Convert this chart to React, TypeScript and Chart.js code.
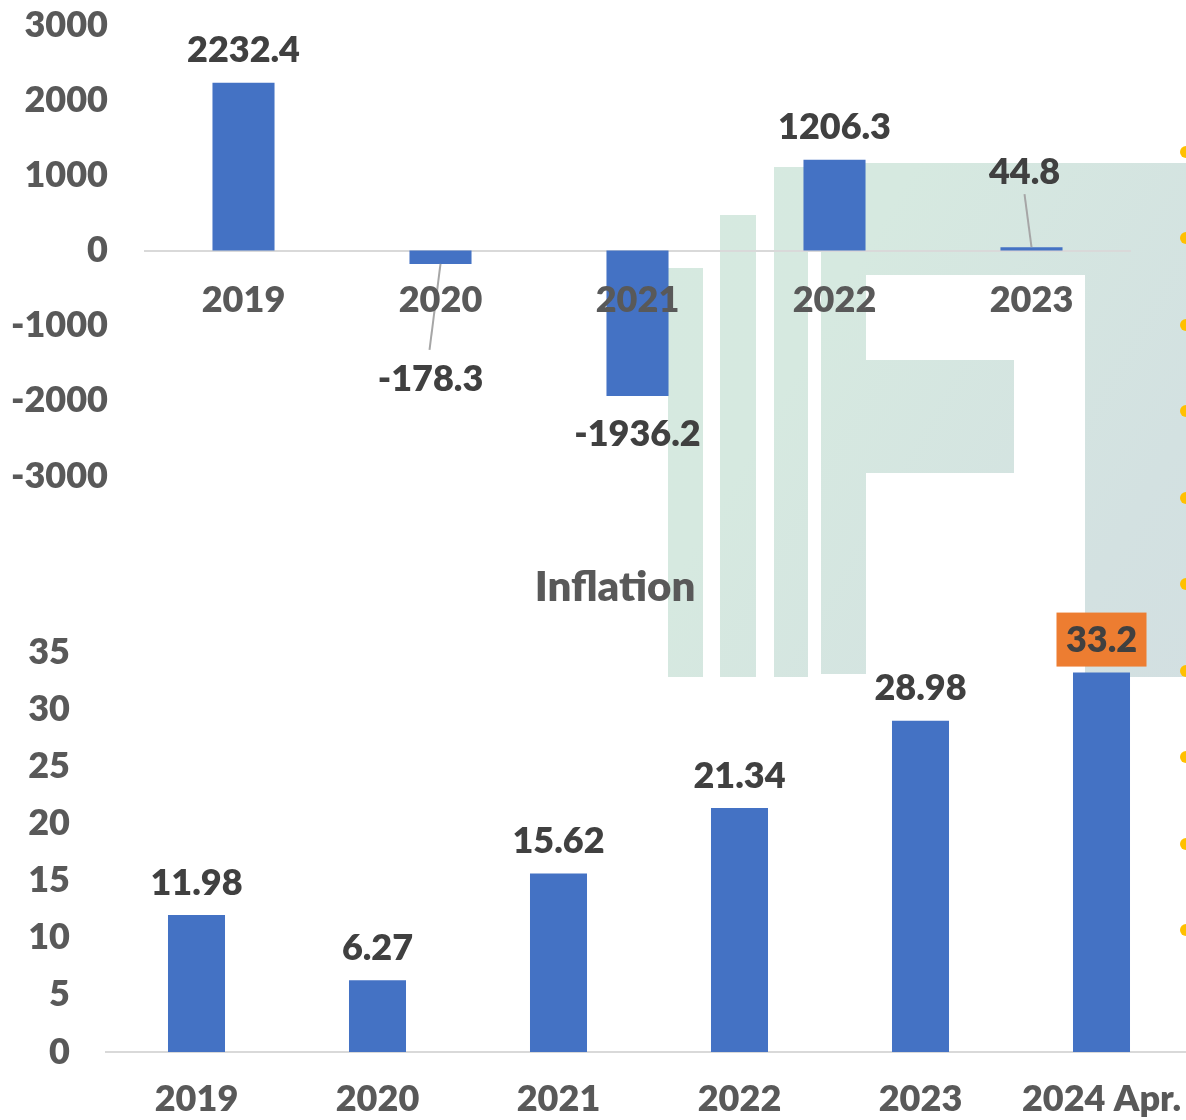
import React, { useEffect, useRef } from 'react';
import { Chart, registerables } from 'chart.js';

Chart.register(...registerables);

// ---- Data ----
const fdiCategories = ['2019', '2020', '2021', '2022', '2023'];
const fdiValues = [2232.4, -178.3, -1936.2, 1206.3, 44.8];
const fdiTicks = [-3000, -2000, -1000, 0, 1000, 2000, 3000];

const inflationTitle = 'Inflation';
const inflationCategories = ['2019', '2020', '2021', '2022', '2023', '2024 Apr.'];
const inflationValues = [11.98, 6.27, 15.62, 21.34, 28.98, 33.2];
const inflationTicks = [0, 5, 10, 15, 20, 25, 30, 35];

// ---- Styles ----
const BAR = '#4472C4';
const TICK_COLOR = '#595959';
const LABEL_COLOR = '#404040';
const FONT = 'Lato';
const WEIGHT = '800';

type LabelLayout = {
  dx?: number;
  offset?: number;
  leader?: { dx: number; dy: number };
  box?: { color: string; w: number; h: number };
};

const barLabelPlugin = {
  id: 'barLabels',
  afterDatasetsDraw(chart: any, _args: any, opts: any) {
    const ctx = chart.ctx as CanvasRenderingContext2D;
    const meta = chart.getDatasetMeta(0);
    const values = chart.data.datasets[0].data as number[];
    const layout: LabelLayout[] = opts.layout || [];
    ctx.save();
    ctx.font = `${WEIGHT} ${opts.size}px ${FONT}`;
    ctx.textAlign = 'center';
    ctx.textBaseline = 'middle';
    meta.data.forEach((bar: any, i: number) => {
      const v = values[i];
      const lay = layout[i] || {};
      const p = bar.getProps(['x', 'y', 'base'], true);
      const neg = v < 0;
      const off = lay.offset ?? (neg ? opts.negOffset : opts.posOffset);
      const lx = p.x + (lay.dx || 0);
      const ly = neg ? p.y + off : p.y - off;
      if (lay.leader) {
        ctx.strokeStyle = '#A6A6A6';
        ctx.lineWidth = 2;
        ctx.beginPath();
        ctx.moveTo(p.x, p.y);
        ctx.lineTo(lx + lay.leader.dx, ly + lay.leader.dy);
        ctx.stroke();
      }
      if (lay.box) {
        ctx.fillStyle = lay.box.color;
        ctx.fillRect(lx - lay.box.w / 2, ly - lay.box.h / 2, lay.box.w, lay.box.h);
      }
      ctx.fillStyle = LABEL_COLOR;
      ctx.fillText(String(v), lx, ly + (opts.textShift || 0));
    });
    ctx.restore();
  },
};

function FdiChart() {
  const ref = useRef<HTMLCanvasElement>(null);
  useEffect(() => {
    if (!ref.current) return;
    const chart = new Chart(ref.current, {
      type: 'bar',
      data: {
        labels: fdiCategories,
        datasets: [
          {
            data: fdiValues,
            backgroundColor: BAR,
            categoryPercentage: 1,
            barPercentage: 0.315,
          },
        ],
      },
      plugins: [barLabelPlugin],
      options: {
        animation: false,
        responsive: false,
        layout: { padding: { left: 0, top: 25, right: 56, bottom: 64 } },
        plugins: {
          legend: { display: false },
          tooltip: { enabled: false },
          barLabels: {
            size: 36,
            posOffset: 33,
            negOffset: 37,
            textShift: 1,
            layout: [
              {},
              { dx: -10, offset: 114, leader: { dx: -1, dy: -28 } },
              {},
              {},
              { dx: -7, offset: 76, leader: { dx: 0, dy: 23 } },
            ],
          },
        } as any,
        scales: {
          x: {
            position: { y: 0 } as any,
            grid: { display: false, drawTicks: true, tickLength: 28 },
            border: { display: true, color: '#D9D9D9', width: 2 },
            ticks: {
              z: 1,
              color: TICK_COLOR,
              font: { family: FONT, size: 36, weight: WEIGHT },
              padding: 0,
              maxRotation: 0,
            },
          },
          y: {
            min: -3000,
            max: 3000,
            afterBuildTicks: (s: any) => {
              s.ticks = fdiTicks.map((v) => ({ value: v }));
            },
            afterFit: (s: any) => {
              s.width = 145;
            },
            grid: { display: false, drawTicks: true, tickLength: 37 },
            border: { display: false },
            ticks: {
              color: TICK_COLOR,
              font: { family: FONT, size: 36, weight: WEIGHT },
              padding: 0,
              callback: (v: any) => String(v),
            },
          },
        } as any,
      },
    });
    return () => chart.destroy();
  }, []);
  return (
    <canvas
      ref={ref}
      width={1186}
      height={540}
      style={{ position: 'absolute', left: 0, top: 0, width: 1186, height: 540 }}
    />
  );
}

function InflationChart() {
  const ref = useRef<HTMLCanvasElement>(null);
  useEffect(() => {
    if (!ref.current) return;
    const chart = new Chart(ref.current, {
      type: 'bar',
      data: {
        labels: inflationCategories,
        datasets: [
          {
            data: inflationValues,
            backgroundColor: BAR,
            categoryPercentage: 1,
            barPercentage: 0.315,
          },
        ],
      },
      plugins: [barLabelPlugin],
      options: {
        animation: false,
        responsive: false,
        layout: { padding: { left: 0, top: 0, right: 0, bottom: 0 } },
        plugins: {
          legend: { display: false },
          tooltip: { enabled: false },
          title: {
            display: true,
            text: inflationTitle,
            color: TICK_COLOR,
            font: { family: FONT, size: 42, weight: WEIGHT },
            padding: { top: 22, bottom: 39.6 },
          },
          barLabels: {
            size: 36,
            posOffset: 33,
            negOffset: 33,
            textShift: 1,
            layout: [{}, {}, {}, {}, {}, { box: { color: '#ED7D31', w: 90, h: 54 } }],
          },
        } as any,
        scales: {
          x: {
            grid: { display: false, drawTicks: true, tickLength: 26 },
            border: { display: true, color: '#D9D9D9', width: 2 },
            afterFit: (s: any) => {
              s.height = 88;
            },
            ticks: {
              color: TICK_COLOR,
              font: { family: FONT, size: 36, weight: WEIGHT },
              padding: 0,
              maxRotation: 0,
              autoSkip: false,
            },
          },
          y: {
            min: 0,
            max: 35,
            afterBuildTicks: (s: any) => {
              s.ticks = inflationTicks.map((v) => ({ value: v }));
            },
            afterFit: (s: any) => {
              s.width = 106;
            },
            grid: { display: false, drawTicks: true, tickLength: 36 },
            border: { display: false },
            ticks: {
              color: TICK_COLOR,
              font: { family: FONT, size: 36, weight: WEIGHT },
              padding: 0,
              callback: (v: any) => String(v),
            },
          },
          // empty spacer axis on the right (beyond the visible page edge)
          yRight: {
            type: 'linear',
            position: 'right',
            display: true,
            afterFit: (s: any) => {
              s.width = 38;
            },
            grid: { display: false, drawTicks: false },
            border: { display: false },
            ticks: { display: false },
          },
        } as any,
      },
    });
    return () => chart.destroy();
  }, []);
  return (
    <canvas
      ref={ref}
      width={1230}
      height={600}
      style={{ position: 'absolute', left: 0, top: 540, width: 1230, height: 600 }}
    />
  );
}

// Decorative background watermark (logo shapes and dots)
const wmRects = [
  [668, 268, 35, 409],
  [720, 215, 36, 462],
  [774, 167, 34, 510],
  [821, 163, 45, 511],
  [821, 163, 365, 112],
  [866, 360, 148, 113],
  [1085, 163, 101, 514],
];
const wmDotsY = [152, 238, 325, 411, 498, 584, 671, 757, 844, 930];

function Watermark() {
  const grad = 'linear-gradient(120deg, #D6EAE0 0%, #D6E9E0 55%, #D3E1E1 78%, #D2DDE2 100%)';
  return (
    <>
      {wmRects.map(([x, y, w, h], i) => (
        <div
          key={i}
          style={{
            position: 'absolute',
            left: x,
            top: y,
            width: w,
            height: h,
            backgroundImage: grad,
            backgroundAttachment: 'fixed',
          }}
        />
      ))}
      {wmDotsY.map((y, i) => (
        <div
          key={'d' + i}
          style={{
            position: 'absolute',
            left: 1186 - 6,
            top: y - 6,
            width: 12,
            height: 12,
            borderRadius: 6,
            background: '#FFC000',
          }}
        />
      ))}
    </>
  );
}

export default function App() {
  return (
    <div
      style={{
        position: 'absolute',
        left: 0,
        top: 0,
        width: 1186,
        height: 1120,
        overflow: 'hidden',
        background: '#ffffff',
      }}
    >
      <Watermark />
      <FdiChart />
      <InflationChart />
    </div>
  );
}
